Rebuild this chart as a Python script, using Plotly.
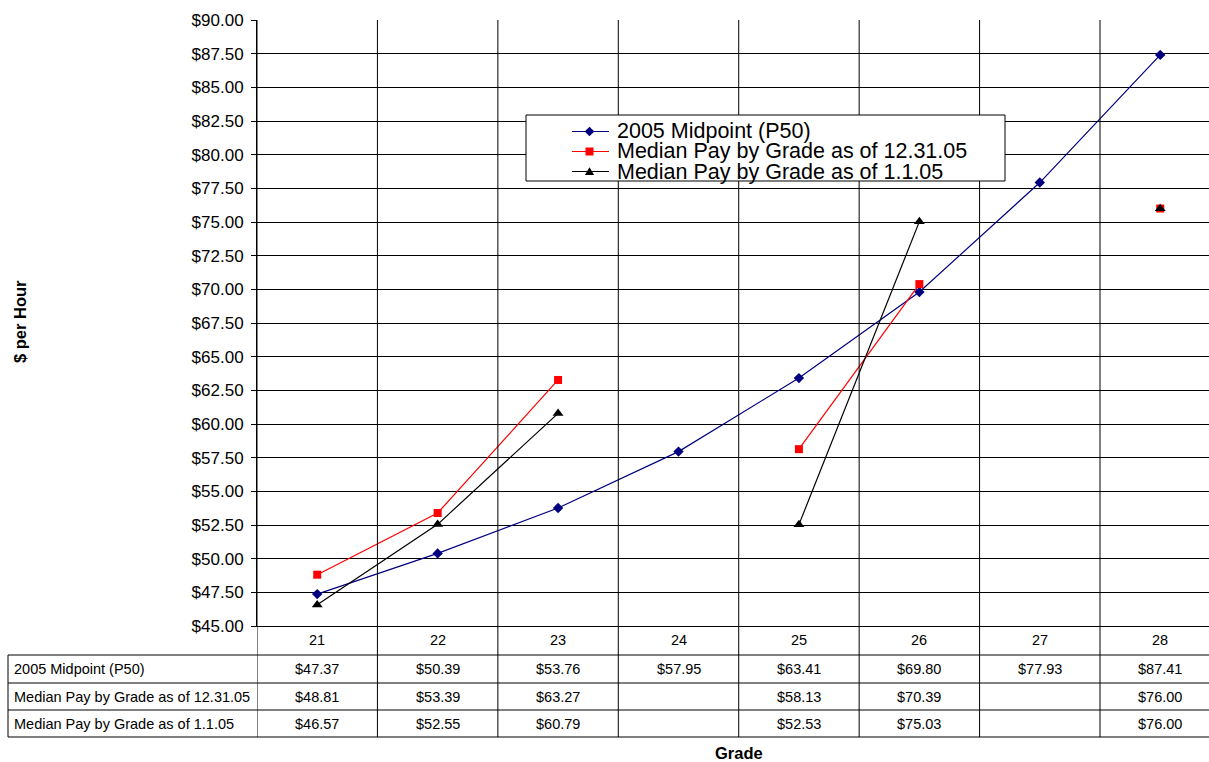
import plotly.graph_objects as go

# ---- data ----
grades = [21, 22, 23, 24, 25, 26, 27, 28]
midpoint_2005 = [47.37, 50.39, 53.76, 57.95, 63.41, 69.80, 77.93, 87.41]
median_dec31 = [48.81, 53.39, 63.27, None, 58.13, 70.39, None, 76.00]
median_jan1 = [46.57, 52.55, 60.79, None, 52.53, 75.03, None, 76.00]
series_names = [
    "2005 Midpoint (P50)",
    "Median Pay by Grade as of 12.31.05",
    "Median Pay by Grade as of 1.1.05",
]

# ---- page geometry (pixels) ----
W, H = 1209, 762
PLOT_L, PLOT_T, PLOT_B = 257, 20, 626
CAT_W = 120.43
TABLE_LEFT = 8
ROW_LINES = [655, 683, 710, 737]
ROW_TEXT_Y = [669, 697, 724]
CAT_TEXT_Y = 640

FONT = "Arial, 'Liberation Sans', sans-serif"


def fx(x):
    return x / W


def fy(y):
    return (H - y) / H


series = [
    dict(name=series_names[0], y=midpoint_2005, color="#000080",
         symbol="diamond", size=8),
    dict(name=series_names[1], y=median_dec31, color="#FF0000",
         symbol="square", size=8),
    dict(name=series_names[2], y=median_jan1, color="#000000",
         symbol="triangle-up", size=9.5),
]

fig = go.Figure()
for s in series:
    fig.add_trace(go.Scatter(
        x=grades, y=s["y"], name=s["name"], mode="lines+markers",
        line=dict(color=s["color"], width=1.2),
        marker=dict(symbol=s["symbol"], size=s["size"], color=s["color"],
                    line=dict(width=0)),
        connectgaps=False, showlegend=False, cliponaxis=False,
    ))

x_lo = grades[0] - 0.5
x_hi = x_lo + (W - PLOT_L) / CAT_W

shapes = []
annotations = []

# vertical category dividers running through plot and table
for k in range(len(grades)):
    xv = grades[0] - 0.5 + k
    shapes.append(dict(type="line", xref="x", yref="paper", x0=xv, x1=xv,
                       y0=fy(ROW_LINES[-1]), y1=fy(PLOT_T),
                       line=dict(color="black", width=1), layer="above"))

# table horizontal rules
for yl in ROW_LINES:
    shapes.append(dict(type="line", xref="paper", yref="paper",
                       x0=fx(TABLE_LEFT), x1=1, y0=fy(yl), y1=fy(yl),
                       line=dict(color="black", width=1), layer="above"))
shapes.append(dict(type="line", xref="paper", yref="paper",
                   x0=fx(TABLE_LEFT), x1=fx(TABLE_LEFT),
                   y0=fy(ROW_LINES[0]), y1=fy(ROW_LINES[-1]),
                   line=dict(color="black", width=1), layer="above"))

# category labels
for g in grades:
    annotations.append(dict(x=g, y=fy(CAT_TEXT_Y), xref="x", yref="paper",
                            text=str(g), showarrow=False,
                            font=dict(family=FONT, size=14.5, color="black"),
                            xanchor="center", yanchor="middle"))

# table rows
for s, ty in zip(series, ROW_TEXT_Y):
    annotations.append(dict(x=fx(12), y=fy(ty), xref="paper", yref="paper",
                            text=s["name"], showarrow=False,
                            font=dict(family=FONT, size=14.5, color="black"),
                            xanchor="left", yanchor="middle"))
    for g, v in zip(grades, s["y"]):
        if v is None:
            continue
        annotations.append(dict(x=g, y=fy(ty), xref="x", yref="paper",
                                text=f"${v:.2f}", showarrow=False,
                                font=dict(family=FONT, size=14.5, color="black"),
                                xanchor="center", yanchor="middle"))

# legend box
LG_L, LG_T, LG_R, LG_B = 526, 115, 1005, 181
shapes.append(dict(type="rect", xref="paper", yref="paper",
                   x0=fx(LG_L), x1=fx(LG_R), y0=fy(LG_B), y1=fy(LG_T),
                   fillcolor="white", line=dict(color="black", width=1),
                   layer="above"))
LG_ROWS = [131.5, 151.5, 171.5]
for s, ry in zip(series, LG_ROWS):
    shapes.append(dict(type="line", xref="paper", yref="paper",
                       x0=fx(572), x1=fx(609), y0=fy(ry), y1=fy(ry),
                       line=dict(color=s["color"], width=1.2), layer="above"))
    cx = 589.5
    if s["symbol"] == "diamond":
        r = 4.8
        path = (f"M {fx(cx - r)} {fy(ry)} L {fx(cx)} {fy(ry - r)} "
                f"L {fx(cx + r)} {fy(ry)} L {fx(cx)} {fy(ry + r)} Z")
    elif s["symbol"] == "square":
        r = 4
        path = (f"M {fx(cx - r)} {fy(ry - r)} L {fx(cx + r)} {fy(ry - r)} "
                f"L {fx(cx + r)} {fy(ry + r)} L {fx(cx - r)} {fy(ry + r)} Z")
    else:
        r = 4.6
        path = (f"M {fx(cx - r)} {fy(ry + 3.5)} L {fx(cx + r)} {fy(ry + 3.5)} "
                f"L {fx(cx)} {fy(ry - 4.2)} Z")
    shapes.append(dict(type="path", xref="paper", yref="paper", path=path,
                       fillcolor=s["color"], line=dict(width=0), layer="above"))
    annotations.append(dict(x=fx(615), y=fy(ry), xref="paper", yref="paper",
                            text=s["name"], showarrow=False,
                            font=dict(family=FONT, size=21.5, color="black"),
                            xanchor="left", yanchor="middle"))

# axis titles
annotations.append(dict(x=fx(739), y=fy(753), xref="paper", yref="paper",
                        text="<b>Grade</b>", showarrow=False,
                        font=dict(family=FONT, size=16.5, color="black"),
                        xanchor="center", yanchor="middle"))
annotations.append(dict(x=fx(20), y=fy(322), xref="paper", yref="paper",
                        text="<b>$ per Hour</b>", showarrow=False, textangle=-90,
                        font=dict(family=FONT, size=16.5, color="black"),
                        xanchor="center", yanchor="middle"))

fig.update_layout(
    width=W, height=H,
    margin=dict(l=0, r=0, t=0, b=0, pad=0, autoexpand=False),
    paper_bgcolor="white", plot_bgcolor="white",
    showlegend=False,
    xaxis=dict(domain=[fx(PLOT_L), 1], range=[x_lo, x_hi],
               showgrid=False, zeroline=False, showticklabels=False,
               ticks="", showline=True, linecolor="black", linewidth=1,
               automargin=False, fixedrange=True),
    yaxis=dict(domain=[fy(PLOT_B), fy(PLOT_T)], range=[45, 90], dtick=2.5,
               tick0=45, tickformat=".2f", tickprefix="$",
               showgrid=True, gridcolor="black", gridwidth=1,
               zeroline=False, showline=True, linecolor="black", linewidth=1,
               ticks="outside", ticklen=5, tickcolor="black",
               tickfont=dict(family=FONT, size=17, color="black"),
               ticklabelstandoff=4, automargin=False, fixedrange=True),
    shapes=shapes,
    annotations=annotations,
)

fig.write_html("out.html")
